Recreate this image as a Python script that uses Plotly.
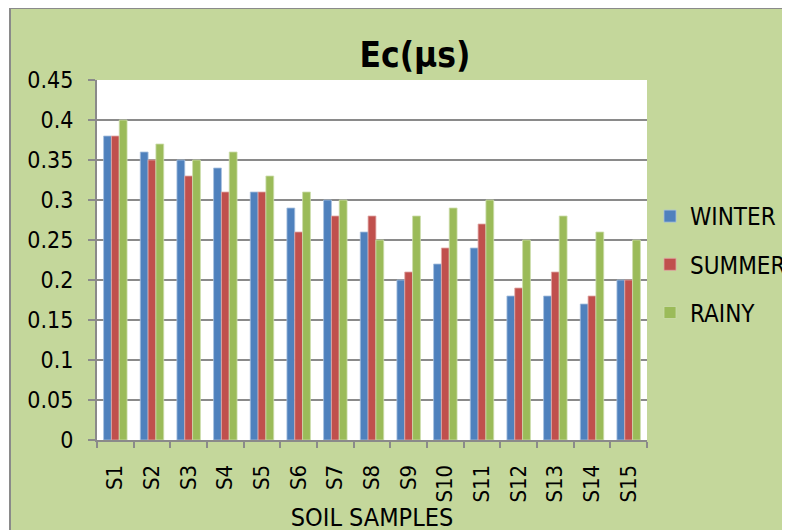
import plotly.graph_objects as go

categories = ["S1", "S2", "S3", "S4", "S5", "S6", "S7", "S8", "S9", "S10", "S11", "S12", "S13", "S14", "S15"]
winter = [0.38, 0.36, 0.35, 0.34, 0.31, 0.29, 0.30, 0.26, 0.20, 0.22, 0.24, 0.18, 0.18, 0.17, 0.20]
summer = [0.38, 0.35, 0.33, 0.31, 0.31, 0.26, 0.28, 0.28, 0.21, 0.24, 0.27, 0.19, 0.21, 0.18, 0.20]
rainy = [0.40, 0.37, 0.35, 0.36, 0.33, 0.31, 0.30, 0.25, 0.28, 0.29, 0.30, 0.25, 0.28, 0.26, 0.25]
series_names = ["WINTER", "SUMMER", "RAINY"]
y_ticks = [0, 0.05, 0.1, 0.15, 0.2, 0.25, 0.3, 0.35, 0.4, 0.45]

FONT = "Liberation Sans Narrow, DejaVu Sans Condensed, Arial Narrow, sans-serif"
colors = ["#4F81BD", "#C0504D", "#9BBB59"]
edge = ["#A7C0DE", "#E0A8A6", "#CDDDAC"]
GREEN = "#C4D79B"
GRAY = "#8A8A8A"

fig = go.Figure()
for name, vals, c, e in zip(series_names, [winter, summer, rainy], colors, edge):
    fig.add_trace(go.Bar(
        x=categories, y=vals, name=name, legendgroup=name,
        marker=dict(color=c, line=dict(color=e, width=0.8)),
    ))

# svg-pixel layout (page has an 8px body margin)
L, R, T, B = 89, 151, 72, 98
W, H = 790, 530
pw, ph = W - L - R, H - T - B

def px2x(p):
    return (p - L) / pw

def py2y(p):
    return 1 - (p - T) / ph

shapes = [
    dict(type="rect", xref="paper", yref="paper", x0=px2x(-5), x1=px2x(1),
         y0=py2y(H + 20), y1=py2y(-5), fillcolor="white", line=dict(width=0), layer="above"),
    dict(type="line", xref="paper", yref="paper", x0=px2x(1), x1=px2x(W),
         y0=py2y(0), y1=py2y(0), line=dict(color=GRAY, width=2), layer="above"),
    dict(type="line", xref="paper", yref="paper", x0=px2x(2), x1=px2x(2),
         y0=py2y(H + 20), y1=py2y(-1), line=dict(color=GRAY, width=2), layer="above"),
]

fig.update_layout(
    width=W, height=H,
    margin=dict(l=L, r=R, t=T, b=B, autoexpand=False),
    paper_bgcolor=GREEN, plot_bgcolor="white",
    barmode="group", bargap=0.36, bargroupgap=0,
    font=dict(family=FONT, color="black", size=22),
    title=dict(text="<b>Ec(μs)</b>", x=407 / W, xanchor="center", y=1 - 47 / H, yanchor="middle",
               font=dict(family=FONT, size=35, color="black")),
    legend=dict(x=px2x(642), xanchor="left", y=py2y(186), yanchor="top",
                bgcolor="rgba(0,0,0,0)", font=dict(family=FONT, size=24),
                tracegroupgap=14, itemwidth=30),
    shapes=shapes,
    xaxis=dict(
        tickangle=-90, tickfont=dict(family=FONT, size=22),
        showline=True, linecolor=GRAY, linewidth=2,
        ticks="outside", tickson="boundaries", ticklen=6, tickcolor=GRAY, tickwidth=2,
        showgrid=False, ticklabelstandoff=14,
        title=dict(text="SOIL SAMPLES", font=dict(family=FONT, size=25), standoff=4),
        automargin=False,
    ),
    yaxis=dict(
        range=[0, 0.45], tickvals=y_ticks, ticktext=[f"{v:g}" for v in y_ticks],
        tickfont=dict(family=FONT, size=23),
        showgrid=True, gridcolor=GRAY, gridwidth=2,
        showline=True, linecolor=GRAY, linewidth=2,
        ticks="outside", ticklen=7, tickcolor=GRAY, tickwidth=2,
        zeroline=False, ticklabelstandoff=10, automargin=False,
    ),
)

fig.write_html("out.html")
